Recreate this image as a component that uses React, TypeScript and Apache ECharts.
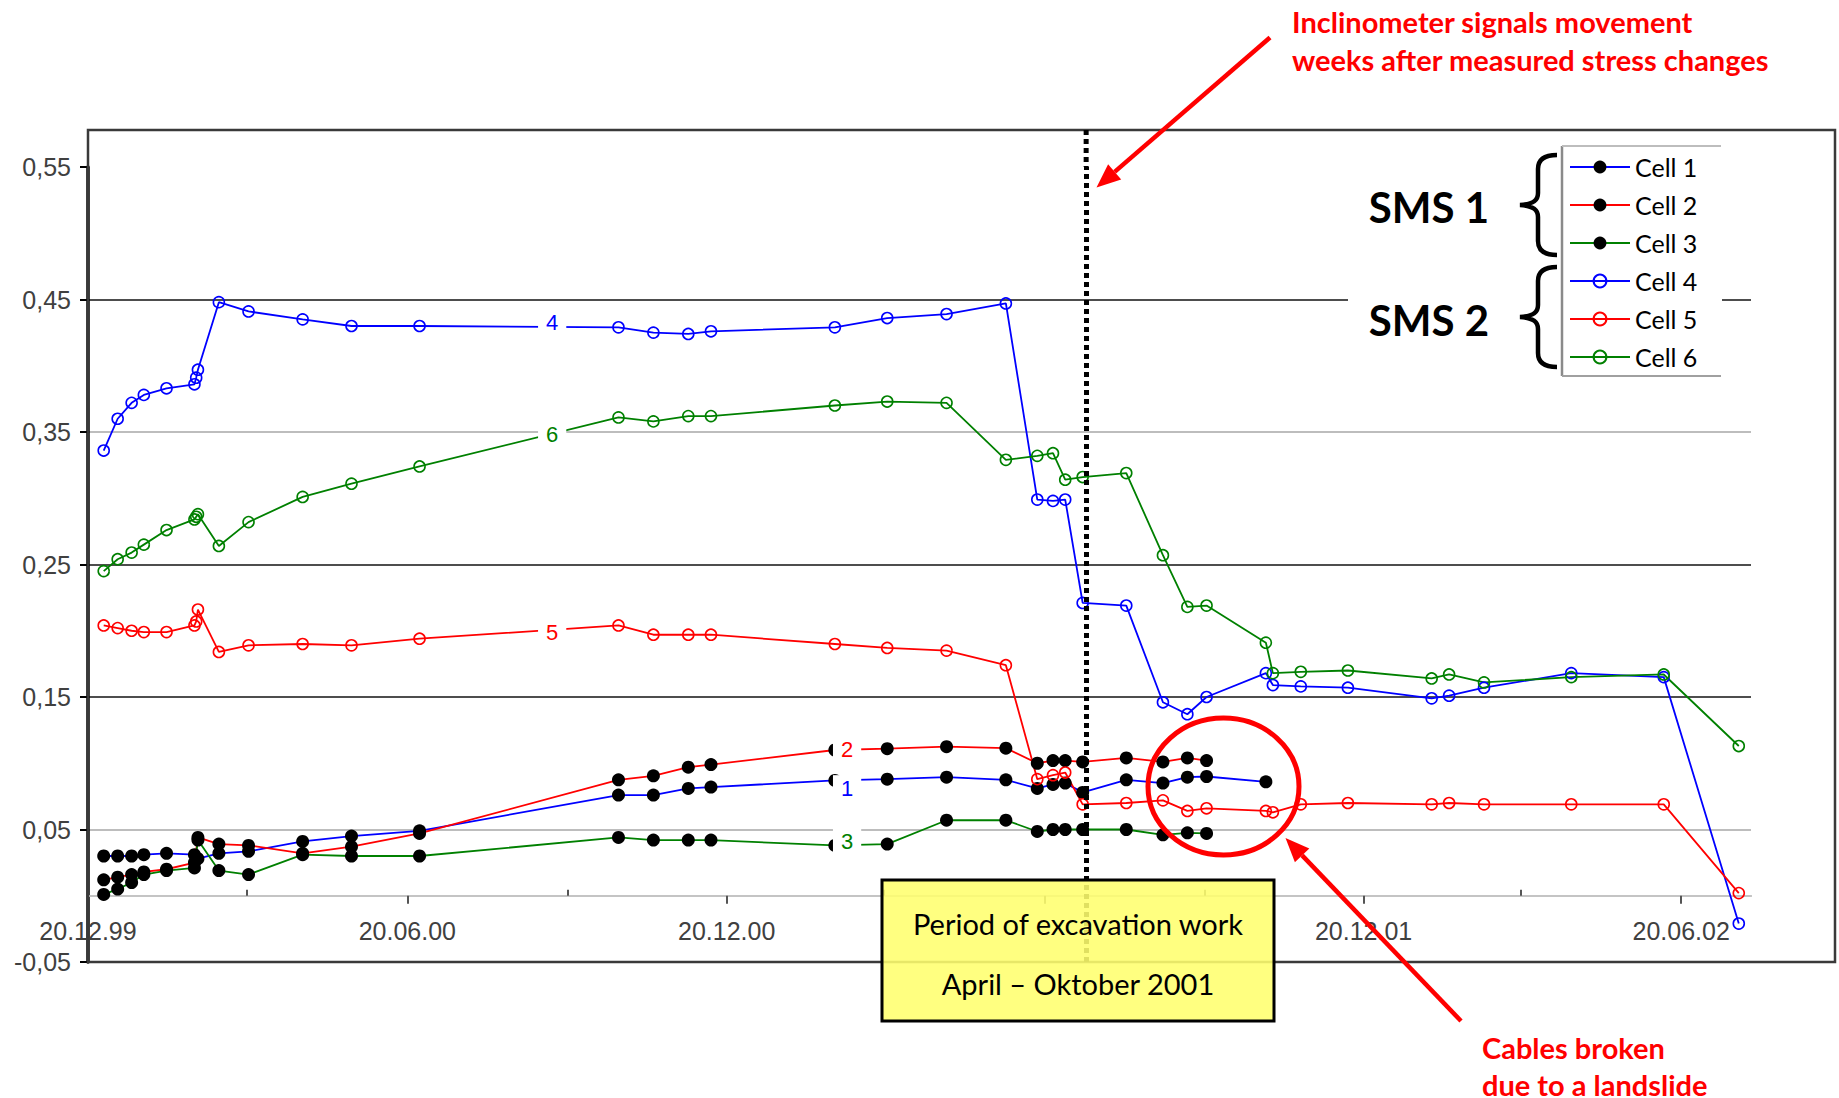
import React, { useEffect, useRef } from 'react';
import * as echarts from 'echarts';

// ---------- data ----------
const SMS1_DATES = ['1999-12-29','2000-01-06','2000-01-14','2000-01-21','2000-02-03','2000-02-19','2000-02-21','2000-03-04','2000-03-21','2000-04-21','2000-05-19','2000-06-27','2000-10-19','2000-11-08','2000-11-28','2000-12-11','2001-02-20','2001-03-22','2001-04-25','2001-05-29','2001-06-16','2001-06-25','2001-07-02','2001-07-12','2001-08-06','2001-08-27','2001-09-10','2001-09-21','2001-10-25'];
const CELL1 = [0.030,0.030,0.030,0.031,0.032,0.031,0.028,0.032,0.0335,0.041,0.045,0.049,0.076,0.076,0.081,0.082,0.087,0.088,0.0895,0.0875,0.081,0.084,0.085,0.078,0.0875,0.085,0.0895,0.090,0.086];
const CELL2 = [0.012,0.014,0.016,0.018,0.020,0.025,0.044,0.039,0.038,0.032,0.037,0.047,0.0875,0.0905,0.097,0.099,0.110,0.111,0.1125,0.1114,0.100,0.102,0.102,0.101,0.104,0.101,0.104,0.102];
const CELL3 = [0.001,0.005,0.010,0.016,0.019,0.021,0.042,0.019,0.016,0.031,0.030,0.030,0.044,0.042,0.042,0.042,0.038,0.039,0.057,0.057,0.0485,0.050,0.050,0.050,0.050,0.046,0.0475,0.047];

const SMS2_DATES = ['1999-12-29','2000-01-06','2000-01-14','2000-01-21','2000-02-03','2000-02-19','2000-02-20','2000-02-21','2000-03-04','2000-03-21','2000-04-21','2000-05-19','2000-06-27','2000-10-19','2000-11-08','2000-11-28','2000-12-11','2001-02-20','2001-03-22','2001-04-25','2001-05-29','2001-06-16','2001-06-25','2001-07-02','2001-07-12','2001-08-06','2001-08-27','2001-09-10','2001-09-21','2001-10-25','2001-10-29','2001-11-14','2001-12-11','2002-01-28','2002-02-07','2002-02-27','2002-04-18','2002-06-10','2002-07-23'];
const CELL4 = [0.336,0.360,0.372,0.378,0.383,0.386,0.391,0.397,0.448,0.441,0.435,0.430,0.430,0.429,0.425,0.424,0.426,0.429,0.436,0.439,0.447,0.299,0.298,0.299,0.221,0.219,0.146,0.137,0.150,0.168,0.159,0.158,0.157,0.149,0.151,0.157,0.168,0.165,-0.021];
const CELL5 = [0.204,0.202,0.200,0.199,0.199,0.204,0.207,0.216,0.184,0.189,0.190,0.189,0.194,0.204,0.197,0.197,0.197,0.190,0.187,0.185,0.174,0.088,0.091,0.093,0.069,0.070,0.072,0.064,0.066,0.064,0.063,0.069,0.070,0.069,0.070,0.069,0.069,0.069,0.002];
const CELL6 = [0.245,0.254,0.259,0.265,0.276,0.284,0.286,0.288,0.264,0.282,0.301,0.311,0.324,0.361,0.358,0.362,0.362,0.370,0.373,0.372,0.329,0.332,0.334,0.314,0.316,0.319,0.257,0.218,0.219,0.191,0.168,0.169,0.170,0.164,0.167,0.161,0.165,0.167,0.113];

const SERIES_NAMES = ['Cell 1','Cell 2','Cell 3','Cell 4','Cell 5','Cell 6'];
const SERIES_COLORS = ['#0000ff','#ff0000','#008000','#0000ff','#ff0000','#008000'];
const SERIES_GROUP = [1,1,1,2,2,2];

// in-line series labels (text, date, value)
const LINE_LABEL_TEXTS = ['1','2','3','4','5','6'];
const LINE_LABEL_DATES = ['2001-02-27','2001-02-27','2001-02-27','2000-09-11','2000-09-11','2000-09-11'];
const LINE_LABEL_VALUES = [0.0812,0.1105,0.041,0.4324,0.1988,0.3482];

const X_MIN = '1999-12-20';
const X_MAX = '2002-07-30';
const X_MAJOR_DATES = ['1999-12-20','2000-06-20','2000-12-20','2001-06-20','2001-12-20','2002-06-20'];
const X_LABEL_DATES = ['1999-12-20','2000-06-20','2000-12-20','2001-12-20','2002-06-20'];
const X_MINOR_DATES = ['2000-03-20','2000-09-20','2001-03-20','2001-09-20','2002-03-20'];
const Y_MIN = -0.05;
const Y_MAX = 0.55;
const Y_STEP = 0.1;
const SIGNAL_DATE = '2001-07-14';

// ---------- helpers ----------
const ts = (s: string) => {
  const [y, m, d] = s.split('-').map(Number);
  return new Date(y, m - 1, d).getTime();
};
const pad = (n: number) => (n < 10 ? '0' + n : '' + n);
const fmtDate = (v: number) => {
  const d = new Date(v);
  return `${pad(d.getDate())}.${pad(d.getMonth() + 1)}.${String(d.getFullYear()).slice(2)}`;
};

const BRACE_PATH = 'M40,1 C28,1 21,5 21,15 L21,39 C21,46 17,50 3,51 C17,52 21,56 21,63 L21,87 C21,97 28,101 40,101';
echarts.graphic.registerShape('brace', echarts.graphic.extendPath(BRACE_PATH, {}));

const CAL = 'Lato, "Open Sans", sans-serif';
const ARIAL = '"Liberation Sans", Arial, sans-serif';
const RED = '#ff0000';

function arrow(id: string, x1: number, y1: number, x2: number, y2: number) {
  const dx = x2 - x1, dy = y2 - y1;
  const len = Math.sqrt(dx * dx + dy * dy);
  const ux = dx / len, uy = dy / len;
  const hl = 24, hw = 10;
  const bx = x2 - ux * hl, by = y2 - uy * hl;
  const nx = -uy, ny = ux;
  return [
    { id: id + 'l', type: 'line', z: 20, shape: { x1, y1, x2: bx, y2: by }, style: { stroke: RED, lineWidth: 4.5 } },
    { id: id + 'h', type: 'polygon', z: 20, shape: { points: [[x2, y2], [bx + nx * hw, by + ny * hw], [bx - nx * hw, by - ny * hw]] }, style: { fill: RED } },
  ];
}

function buildGraphic(ext?: { x: number; y: number }) {
  const els: any[] = [
    { id: 'frame', type: 'rect', z: 1, shape: { x: 88, y: 130, width: 1747, height: 832 }, style: { fill: 'none', stroke: '#3a3a3a', lineWidth: 2.5 } },
    { id: 'legbg', type: 'rect', z: 3, shape: { x: 1348, y: 140, width: 374, height: 240 }, style: { fill: '#ffffff' } },
    { id: 'legl', type: 'line', z: 5, shape: { x1: 1562, y1: 146, x2: 1562, y2: 376 }, style: { stroke: '#8a8a8a', lineWidth: 2.5 } },
    { id: 'legt', type: 'line', z: 5, shape: { x1: 1562, y1: 146, x2: 1721, y2: 146 }, style: { stroke: '#bdbdbd', lineWidth: 2 } },
    { id: 'legb', type: 'line', z: 5, shape: { x1: 1562, y1: 376, x2: 1721, y2: 376 }, style: { stroke: '#a0a0a0', lineWidth: 2 } },
    { id: 'sms1', type: 'text', z: 5, x: 1429, y: 207, style: { text: 'SMS 1', fill: '#000', font: `bold 42px ${CAL}`, align: 'center', verticalAlign: 'middle' } },
    { id: 'sms2', type: 'text', z: 5, x: 1429, y: 320, style: { text: 'SMS 2', fill: '#000', font: `bold 42px ${CAL}`, align: 'center', verticalAlign: 'middle' } },
    { id: 'br1', type: 'brace', z: 5, x: 1517, y: 154, style: { fill: 'none', stroke: '#000', lineWidth: 4.5 } },
    { id: 'br2', type: 'brace', z: 5, x: 1517, y: 266, style: { fill: 'none', stroke: '#000', lineWidth: 4.5 } },
    { id: 'ybox', type: 'rect', z: 15, shape: { x: 882, y: 880, width: 392, height: 141 }, style: { fill: 'rgba(255,255,110,0.88)', stroke: '#000', lineWidth: 3 } },
    { id: 'yt1', type: 'text', z: 16, x: 1078, y: 923, style: { text: 'Period of excavation work', fill: '#000', font: `29px ${CAL}`, align: 'center', verticalAlign: 'middle' } },
    { id: 'yt2', type: 'text', z: 16, x: 1078, y: 983, style: { text: 'April \u2013 Oktober 2001', fill: '#000', font: `29px ${CAL}`, align: 'center', verticalAlign: 'middle' } },
    { id: 'ell', type: 'ellipse', z: 20, shape: { cx: 1223.5, cy: 786.5, rx: 75.5, ry: 68.5 }, style: { fill: 'none', stroke: RED, lineWidth: 5 } },
    ...arrow('a1', 1270, 37.5, 1096.5, 187.6),
    ...arrow('a2', 1461, 1021, 1285.5, 838),
    { id: 'at1', type: 'text', z: 20, x: 1292, y: 21, style: { text: 'Inclinometer signals movement', fill: RED, font: `bold 29px ${CAL}`, align: 'left', verticalAlign: 'middle' } },
    { id: 'at2', type: 'text', z: 20, x: 1292, y: 59, style: { text: 'weeks after measured stress changes', fill: RED, font: `bold 29px ${CAL}`, align: 'left', verticalAlign: 'middle' } },
    { id: 'ct1', type: 'text', z: 20, x: 1482, y: 1047, style: { text: 'Cables broken', fill: RED, font: `bold 29px ${CAL}`, align: 'left', verticalAlign: 'middle' } },
    { id: 'ct2', type: 'text', z: 20, x: 1482, y: 1084, style: { text: 'due to a landslide', fill: RED, font: `bold 29px ${CAL}`, align: 'left', verticalAlign: 'middle' } },
  ];
  if (ext) {
    els.push({ id: 'sigext', type: 'line', z: 4, shape: { x1: ext.x, y1: 130, x2: ext.x, y2: ext.y }, style: { stroke: '#000', lineWidth: 5, lineDash: [5, 4] } });
  }
  return els;
}

function buildSeries() {
  const lists = [CELL1, CELL2, CELL3, CELL4, CELL5, CELL6];
  const series: any[] = SERIES_NAMES.map((name, i) => {
    const filled = SERIES_GROUP[i] === 1;
    const dates = filled ? SMS1_DATES : SMS2_DATES;
    const color = SERIES_COLORS[i];
    return {
      type: 'line',
      name,
      xAxisIndex: 0,
      yAxisIndex: 0,
      data: lists[i].map((v, k) => [ts(dates[k]), v]),
      symbol: 'circle',
      symbolSize: filled ? 13 : 11,
      showSymbol: true,
      showAllSymbol: true,
      z: 2,
      lineStyle: { color, width: 1.8 },
      itemStyle: filled ? { color: '#000000' } : { color: 'rgba(0,0,0,0)', borderColor: color, borderWidth: 1.6 },
      emphasis: { disabled: true },
      markPoint: {
        silent: true,
        symbol: 'rect',
        symbolSize: 1,
        itemStyle: { color: 'rgba(0,0,0,0)' },
        label: {
          show: true,
          position: 'inside',
          formatter: LINE_LABEL_TEXTS[i],
          color,
          fontSize: 22,
          fontFamily: ARIAL,
          backgroundColor: '#ffffff',
          padding: [2, 8],
        },
        data: [{ coord: [ts(LINE_LABEL_DATES[i]), LINE_LABEL_VALUES[i]] }],
      },
    };
  });
  series.push({
    type: 'line',
    name: 'signal',
    data: [],
    z: 3,
    markLine: {
      silent: true,
      symbol: ['none', 'none'],
      label: { show: false },
      lineStyle: { color: '#000', width: 5, type: [5, 4] },
      data: [{ xAxis: ts(SIGNAL_DATE) }],
    },
  });
  return series;
}

export default function App() {
  const ref = useRef<HTMLDivElement>(null);
  useEffect(() => {
    document.body.style.margin = '0';
    const chart = echarts.init(ref.current!, undefined, { renderer: 'svg' });
    const option: any = {
      animation: false,
      backgroundColor: '#ffffff',
      grid: { left: 88, right: 88, top: 167, bottom: 136, containLabel: false },
      legend: {
        data: SERIES_NAMES,
        orient: 'vertical',
        left: 1569,
        top: 152,
        padding: 0,
        itemGap: 8,
        itemWidth: 60,
        itemHeight: 16,
        selectedMode: false,
        z: 6,
        textStyle: { fontSize: 25, fontFamily: CAL, color: '#000', lineHeight: 30 },
      },
      xAxis: [
        {
          type: 'value',
          min: ts(X_MIN),
          max: ts(X_MAX),
          position: 'bottom',
          axisLine: { show: true, onZero: true, onZeroAxisIndex: 0, lineStyle: { color: '#c4c4c4', width: 2 } },
          axisTick: { show: true, inside: false, length: 8, customValues: X_MAJOR_DATES.map(ts), lineStyle: { color: '#555', width: 2 } },
          axisLabel: { show: true, customValues: X_LABEL_DATES.map(ts), formatter: (v: number) => fmtDate(v), fontSize: 25, fontFamily: ARIAL, color: '#404040', margin: -44 },
          splitLine: { show: false },
        },
        {
          type: 'value',
          min: ts(X_MIN),
          max: ts(X_MAX),
          position: 'bottom',
          axisLine: { show: true, onZero: true, onZeroAxisIndex: 0, lineStyle: { color: '#c4c4c4', width: 2 } },
          axisTick: { show: true, inside: true, length: 6, customValues: X_MINOR_DATES.map(ts), lineStyle: { color: '#555', width: 2 } },
          axisLabel: { show: false },
          splitLine: { show: false },
        },
      ],
      yAxis: {
        type: 'value',
        min: Y_MIN,
        max: Y_MAX,
        interval: Y_STEP,
        axisLine: { show: true, onZero: false, lineStyle: { color: '#000', width: 3.5 } },
        axisTick: { show: true, length: 8, lineStyle: { color: '#000', width: 2 } },
        axisLabel: { fontSize: 25, fontFamily: ARIAL, color: '#404040', margin: 17, formatter: (v: number) => v.toFixed(2).replace('.', ',') },
        splitLine: { show: true, lineStyle: { color: ['rgba(0,0,0,0)', '#bdbdbd', '#4d4d4d', '#4d4d4d', '#bdbdbd', '#4d4d4d', 'rgba(0,0,0,0)'], width: 2 } },
      },
      series: buildSeries(),
      graphic: { elements: buildGraphic() },
    };
    chart.setOption(option);
    const px = chart.convertToPixel({ xAxisIndex: 0 }, ts(SIGNAL_DATE)) as number;
    const py = chart.convertToPixel({ yAxisIndex: 0 }, Y_MAX) as number;
    chart.setOption({ graphic: { elements: buildGraphic({ x: px, y: py }) } }, { replaceMerge: ['graphic'] });
    return () => chart.dispose();
  }, []);
  return <div ref={ref} style={{ position: 'fixed', left: 0, top: 0, width: '1839px', height: '1098px' }} />;
}
